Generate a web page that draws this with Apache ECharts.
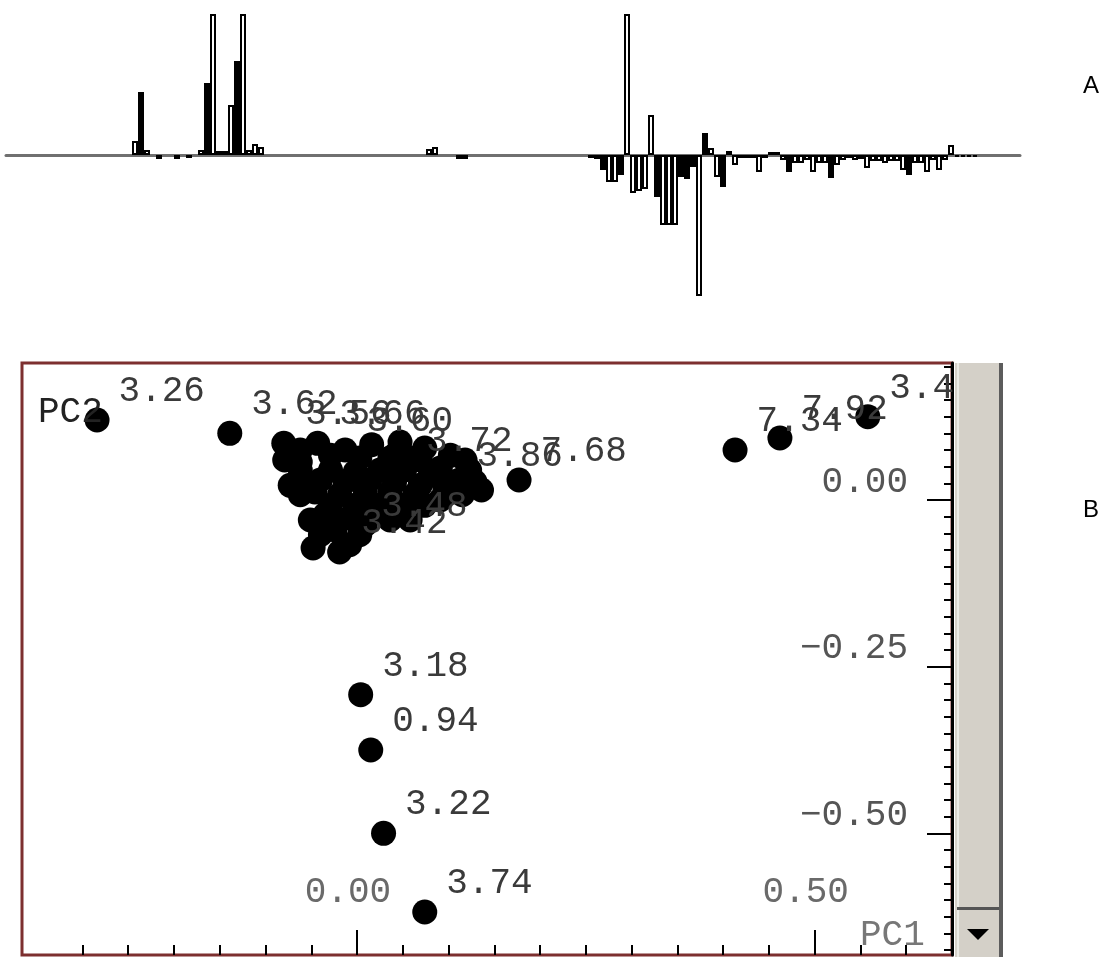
<!DOCTYPE html>
<html>
<head>
<meta charset="utf-8">
<script src="https://cdn.jsdelivr.net/npm/echarts@6/dist/echarts.min.js"></script>
<style>
    html, body {margin: 0; padding: 0; background: #fff;}
    #main {width: 1103px; height: 957px;}
</style>
</head>
<body>
<div id="main"></div>
<script>
/*A: loadings per spectral bin (clipped ones reach past the top)*/
const loadings = [
    0, 0, 0, 0, 0, 0, 0, 0, 0, 0, 0, 0, 0,
    0, 0, 0, 0, 0, 0, 0, 0, 0.14, 0.63, 0.05, 0, -0.04,
    0, 0, -0.04, 0, -0.03, 0, 0.05, 0.72, 2, 0.04, 0.04, 0.50, 0.94,
    2, 0.05, 0.11, 0.08, 0, 0, 0, 0, 0, 0, 0, 0, 0,
    0, 0, 0, 0, 0, 0, 0, 0, 0, 0, 0, 0, 0,
    0, 0, 0, 0, 0, 0.06, 0.08, 0, 0, 0, -0.04, -0.04, 0,
    0, 0, 0, 0, 0, 0, 0, 0, 0, 0, 0, 0, 0,
    0, 0, 0, 0, 0, 0, -0.03, -0.04, -0.15, -0.27, -0.27, -0.20, 2,
    -0.38, -0.36, -0.34, 0.40, -0.42, -0.70, -0.70, -0.70, -0.22, -0.24, -0.12, -1.42, 0.22,
    0.07, -0.22, -0.32, 0.04, -0.10, -0.03, -0.03, -0.03, -0.17, -0.03, 0.03, 0.03, -0.05,
    -0.17, -0.08, -0.08, -0.05, -0.17, -0.08, -0.08, -0.23, -0.10, -0.05, -0.03, -0.05, -0.04,
    -0.13, -0.06, -0.06, -0.08, -0.06, -0.06, -0.15, -0.20, -0.08, -0.08, -0.17, -0.05, -0.15,
    -0.05, 0.10, -0.02, -0.02, -0.02, -0.02, 0, 0, 0, 0, 0, 0, 0
];
const bins = loadings.map((v, i) => i);
/*bins that print as solid black instead of outlined*/
const solidBins = [22, 33, 38, 99, 102, 108, 112, 113, 114, 116, 119, 130, 137, 150];

/*B: scores*/
const pc1 = [
    -0.284, -0.139, -0.080, -0.043, -0.013, 0.016, 0.047, 0.074, 0.102, 0.123,
    0.136, 0.107, 0.080, 0.052, 0.025, -0.002, -0.029, -0.062, -0.073, -0.046,
    -0.019, 0.009, 0.036, 0.063, 0.091, 0.115, -0.035, -0.008, 0.020, 0.047,
    -0.024, 0.003, -0.048, -0.019, 0.177, -0.062, 0.069, 0.041,
    -0.062, -0.029, 0.003, 0.036, 0.063, 0.091, 0.112, 0.129, -0.040, -0.013,
    0.014, 0.041, 0.069, 0.096, -0.062, -0.029, -0.002, 0.025, 0.052, 0.074,
    -0.051, -0.019, 0.009, -0.040, -0.008, -0.062, -0.079, 0.118, 0.036, 0.058,
    0.004, 0.015, 0.029, 0.074, 0.413, 0.462, 0.558
];
const pc2 = [
    0.120, 0.100, 0.085, 0.085, 0.075, 0.083, 0.087, 0.078, 0.067, 0.045,
    0.015, 0.022, 0.037, 0.045, 0.045, 0.042, 0.045, 0.045, 0.022, 0.012,
    0.008, 0.012, 0.012, 0.008, 0.000, 0.008, -0.022, -0.027, -0.018, -0.015,
    -0.045, -0.052, -0.072, -0.078, 0.030, 0.057, 0.060, 0.067,
    0.075, 0.067, 0.063, 0.063, 0.063, 0.048, 0.030, 0.027, 0.030, 0.027,
    0.030, 0.027, 0.022, 0.018, 0.008, -0.008, -0.008, -0.008, -0.008, -0.008,
    -0.030, -0.030, -0.037, -0.052, -0.067, 0.030, 0.060, 0.060, -0.030, -0.030,
    -0.292, -0.375, -0.500, -0.618, 0.075, 0.093, 0.125
];
const sampleLabels = [
    '3.26', '3.62', '3.56', '3.66', '3.60', '', '', '', '', '',
    '', '3.86', '', '3.72', '', '', '', '', '', '',
    '', '', '', '', '', '', '', '', '', '',
    '', '3.48', '', '3.42', '7.68', '', '', '',
    '', '', '', '', '', '', '', '', '', '',
    '', '', '', '', '', '', '', '', '', '',
    '', '', '', '', '', '', '', '', '', '',
    '3.18', '0.94', '3.22', '3.74', '7.34', '7.92', '3.46'
];

const xMajor = [0, 0.5];
const yMajor = [0, -0.25, -0.5];

/*minor ticks*/
let xMinor = [];
for (let i = -6; i <= 12; i++) xMinor.push(i * 0.05);
let yMinor = [];
for (let i = -27; i <= 8; i++) yMinor.push(i * 0.025);

const MONO = '"Liberation Mono", "DejaVu Sans Mono", monospace';
const fmt = v => v.toFixed(2).replace('-', '\u2212');

let myChart = echarts.init(document.getElementById('main'));

let option = {
    animation: false,
    backgroundColor: '#fff',
    grid: [
        {left: 6, top: 15, width: 1014, height: 280},
        {left: 22, top: 363, width: 930, bottom: 2, show: true, borderColor: '#7d2f2f', borderWidth: 3}
    ],
    xAxis: [
        {
            gridIndex: 0, type: 'category', data: bins, boundaryGap: true,
            axisLine: {onZero: true, lineStyle: {color: '#707070', width: 3}},
            axisTick: {show: false}, axisLabel: {show: false}, splitLine: {show: false}
        },
        {
            gridIndex: 1, type: 'value', min: -0.366, max: 0.650, position: 'bottom',
            axisLine: {show: false, onZero: false}, splitLine: {show: false},
            axisTick: {inside: true, length: 10, customValues: xMinor, lineStyle: {color: '#000', width: 2}},
            axisLabel: {show: false}
        },
        {
            gridIndex: 1, type: 'value', min: -0.366, max: 0.650, position: 'bottom',
            axisLine: {show: false, onZero: false}, splitLine: {show: false},
            axisTick: {inside: true, length: 25, customValues: xMajor, lineStyle: {color: '#000', width: 2}},
            axisLabel: {
                inside: true, customValues: xMajor, formatter: fmt, margin: 63,
                verticalAlign: 'middle', padding: [0, 18, 0, 0],
                fontFamily: MONO, fontSize: 36, color: '#6a6a6a'
            }
        }
    ],
    yAxis: [
        {
            gridIndex: 0, type: 'value', min: -1.4, max: 1.4, show: false
        },
        {
            gridIndex: 1, type: 'value', min: -0.6825, max: 0.2055, position: 'right',
            axisLine: {show: true, onZero: false, lineStyle: {color: '#000', width: 3}}, splitLine: {show: false},
            axisTick: {inside: true, length: 8, customValues: yMinor, lineStyle: {color: '#000', width: 2}},
            axisLabel: {show: false}
        },
        {
            gridIndex: 1, type: 'value', min: -0.6825, max: 0.2055, position: 'right',
            axisLine: {show: false, onZero: false}, splitLine: {show: false},
            axisTick: {inside: true, length: 25, customValues: yMajor, lineStyle: {color: '#000', width: 2}},
            axisLabel: {
                inside: true, customValues: yMajor, formatter: fmt, margin: 44,
                align: 'right', verticalAlign: 'bottom',
                fontFamily: MONO, fontSize: 36, color: '#555'
            }
        }
    ],
    series: [
        {
            /*loadings bars*/
            type: 'bar',
            xAxisIndex: 0, yAxisIndex: 0,
            barWidth: '100%',
            barCategoryGap: 0,
            clip: true,
            itemStyle: {
                color: p => solidBins.includes(p.dataIndex) ? '#000' : '#fff',
                borderColor: '#000',
                borderWidth: 2
            },
            data: loadings.map(v => v === 0 ? '-' : v)
        },
        {
            /*score points*/
            type: 'scatter',
            xAxisIndex: 1, yAxisIndex: 1,
            symbol: 'circle',
            symbolSize: 25,
            itemStyle: {color: '#000', opacity: 1},
            label: {
                show: true,
                position: [34, -16],
                align: 'left',
                verticalAlign: 'middle',
                fontFamily: MONO,
                fontSize: 36,
                color: '#3a3a3a',
                formatter: p => p.data[2]
            },
            data: pc1.map((x, i) => [x, pc2[i], sampleLabels[i]])
        }
    ],
    graphic: [
        /*scrollbar*/
        {type: 'rect', z: 100, shape: {x: 955, y: 363, width: 46, height: 594}, style: {fill: '#d4d0c8'}},
        {type: 'rect', z: 101, shape: {x: 957, y: 363, width: 2, height: 594}, style: {fill: '#ecebe6'}},
        {type: 'rect', z: 101, shape: {x: 999, y: 363, width: 4, height: 594}, style: {fill: '#5c5c5c'}},
        {type: 'rect', z: 101, shape: {x: 957, y: 907, width: 42, height: 3}, style: {fill: '#555'}},
        {type: 'polygon', z: 102, shape: {points: [[967, 929], [989, 929], [978, 940]]}, style: {fill: '#000'}},
        /*titles*/
        {type: 'text', z: 50, left: 38, top: 394, style: {text: 'PC2', font: '36px ' + MONO, fill: '#222'}},
        {type: 'text', z: 50, left: 860, top: 917, style: {text: 'PC1', font: '36px ' + MONO, fill: '#777'}},
        {type: 'text', z: 50, left: 1083, top: 74, style: {text: 'A', font: '24px "Liberation Sans", Arial, sans-serif', fill: '#000'}},
        {type: 'text', z: 50, left: 1083, top: 498, style: {text: 'B', font: '24px "Liberation Sans", Arial, sans-serif', fill: '#000'}}
    ]
};

myChart.setOption(option);
</script>
</body>
</html>
